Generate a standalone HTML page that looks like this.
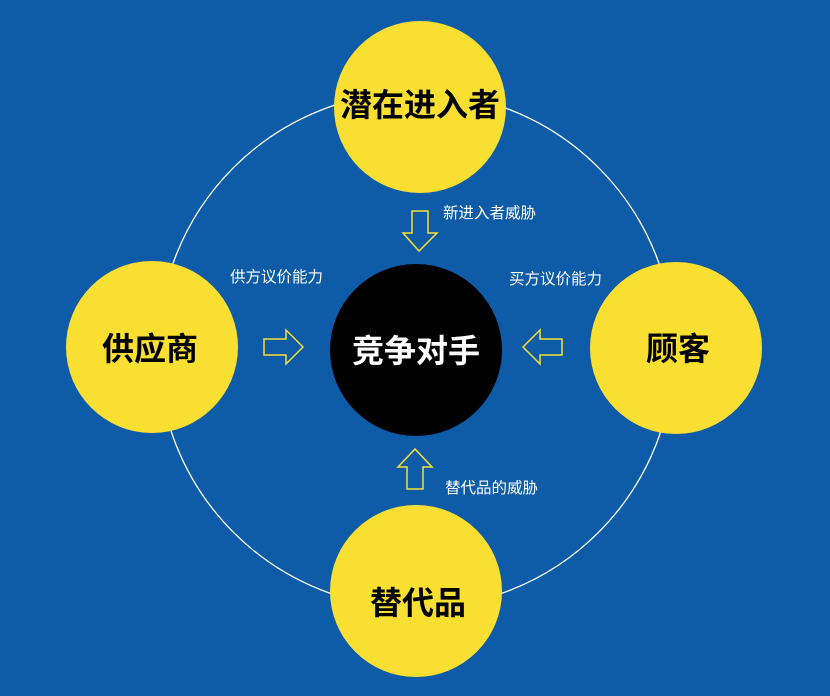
<!DOCTYPE html>
<html><head><meta charset="utf-8"><style>
html,body{margin:0;padding:0}
body{width:830px;height:696px;background:#0e5ca8;overflow:hidden;font-family:"Liberation Sans","Noto Sans CJK SC",sans-serif}
</style></head><body>
<svg width="830" height="696" xmlns="http://www.w3.org/2000/svg" style="position:absolute;left:0;top:0">
<circle cx="416" cy="350" r="258" fill="none" stroke="#fff" stroke-width="1.3"/>
<g fill="#f9df32">
<circle cx="420" cy="107" r="86"/>
<circle cx="152" cy="347" r="86"/>
<circle cx="676" cy="348" r="86"/>
<circle cx="416" cy="591" r="86"/>
</g>
<circle cx="416" cy="350" r="86" fill="#000"/>
<g fill="none" stroke="#f9df32" stroke-width="1.5">
<polygon points="412,211 428,211 428,233 437,233 419,251 403,233 412,233"/>
<polygon points="407,489 423,489 423,467 432,467 415,449 398,467 407,467"/>
<polygon points="264,339 286,339 286,330 303,347 286,364 286,355 264,355"/>
<polygon points="562,339 540,339 540,330 523,347 540,364 540,355 562,355"/>
</g>
<g font-family="Liberation Sans, Noto Sans CJK SC, sans-serif" font-weight="bold" text-anchor="middle" font-size="32">
<text x="420" y="116" fill="#000">潜在进入者</text>
<text x="150" y="360" fill="#000">供应商</text>
<text x="678" y="360" fill="#000">顾客</text>
<text x="418" y="614" fill="#000">替代品</text>
<text x="416" y="362" fill="#fff">竞争对手</text>
</g>
<g font-family="Liberation Sans, Noto Sans CJK SC, sans-serif" font-size="15.5" fill="#fff">
<text x="443" y="218">新进入者威胁</text>
<text x="230" y="282">供方议价能力</text>
<text x="509" y="284">买方议价能力</text>
<text x="445" y="493">替代品的威胁</text>
</g>
</svg>
</body></html>
